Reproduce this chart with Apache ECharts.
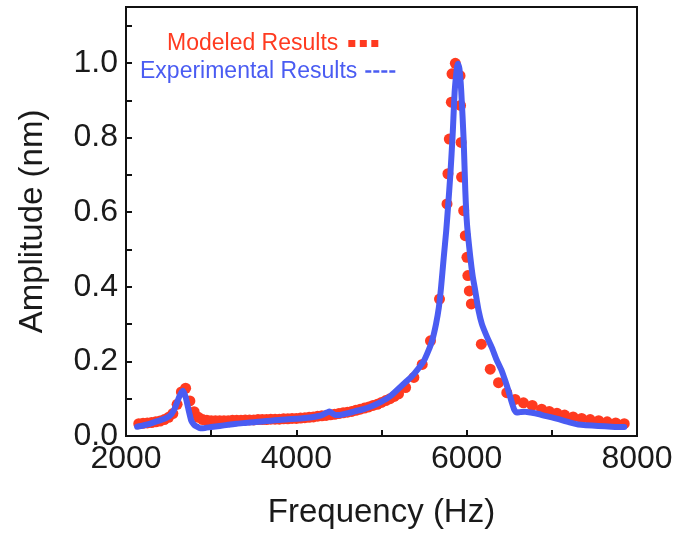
<!DOCTYPE html>
<html>
<head>
<meta charset="utf-8">
<script src="https://cdn.jsdelivr.net/npm/echarts@6/dist/echarts.min.js"></script>
<style>
html,body{margin:0;padding:0;background:#fff;}
#chart{width:678px;height:535px;}
</style>
</head>
<body>
<div id="chart"></div>
<script>
// Modeled results (red dots): frequency (Hz) and amplitude (nm)
var modeledFreq = [2150,2200,2250,2300,2350,2400,2450,2500,2550,2600,2650,2700,2750,2800,2850,2900,2950,
  3000,3050,3100,3150,3200,3250,3300,3350,3400,3450,3500,3550,3600,3650,3700,3750,3800,3850,3900,3950,
  4000,4050,4100,4150,4200,4250,4300,4350,4400,4450,4500,4550,4600,4650,4700,4750,4800,4850,4900,4950,
  5000,5050,5100,5150,5200,5283,5380,5478,5575,5681,5769,5780,5796,5820,5828,5867,
  5922,5928,5935,5940,5965,5984,6003,6014,6031,6055,6172,6277,6374,6471,6569,6667,6770,
  6880,6970,7060,7150,7250,7350,7450,7550,7650,7750,7850];
var modeledAmp = [0.033,0.034,0.035,0.036,0.038,0.040,0.044,0.050,0.060,0.085,0.118,0.128,0.094,0.065,0.050,0.044,0.042,
  0.041,0.041,0.041,0.041,0.041,0.042,0.042,0.042,0.043,0.043,0.043,0.044,0.044,0.044,0.045,0.045,0.045,0.046,0.046,0.047,
  0.047,0.048,0.049,0.050,0.051,0.053,0.054,0.055,0.057,0.058,0.060,0.062,0.064,0.066,0.069,0.072,0.075,0.078,0.082,0.085,
  0.090,0.095,0.100,0.106,0.113,0.130,0.157,0.192,0.255,0.367,0.622,0.703,0.796,0.895,0.971,0.999,
  0.966,0.886,0.787,0.694,0.604,0.537,0.479,0.430,0.389,0.354,0.246,0.179,0.143,0.116,0.098,0.089,0.082,
  0.072,0.066,0.061,0.056,0.051,0.047,0.044,0.041,0.038,0.035,0.033];

// Experimental results (blue line)
var expFreq = [2130,2200,2250,2318,2400,2450,2515,2560,2593,2630,2667,2700,2729,2768,2800,2827,2870,2903,
  3000,3100,3200,3300,3400,3500,3600,3700,3800,3900,4000,4100,4200,4300,4360,4390,4420,4460,4500,
  4600,4700,4800,4900,5000,5100,5205,5300,5361,5430,5497,5550,5594,5640,5673,5700,5731,5760,5781,
  5809,5836,5860,5887,5898,5915,5936,5965,5984,6004,6043,6070,6101,6140,6179,6240,6296,6350,6413,
  6450,6491,6530,6560,6589,6630,6686,6750,6842,6920,7000,7080,7154,7230,7310,7400,7544,7700,7817,7850];
var expAmp = [0.025,0.028,0.031,0.036,0.042,0.046,0.054,0.068,0.086,0.108,0.121,0.105,0.076,0.040,0.030,0.026,0.021,0.021,
  0.024,0.027,0.030,0.033,0.035,0.037,0.039,0.041,0.043,0.045,0.046,0.048,0.051,0.056,0.063,0.066,0.061,0.056,0.056,
  0.061,0.067,0.073,0.081,0.092,0.106,0.128,0.148,0.161,0.180,0.201,0.228,0.255,0.300,0.344,0.400,0.479,0.550,0.613,
  0.703,0.810,0.926,0.989,0.998,0.985,0.926,0.792,0.658,0.568,0.479,0.430,0.389,0.336,0.300,0.265,0.237,0.205,0.174,
  0.150,0.121,0.090,0.070,0.063,0.064,0.065,0.063,0.059,0.054,0.050,0.045,0.040,0.035,0.031,0.029,0.027,0.025,0.024,0.024];

var xLabels = ['2000','4000','6000','8000'];
var yLabels = ['0.0','0.2','0.4','0.6','0.8','1.0'];

var RED = '#ff3a20';
var BLUE = '#4a5cf2';
var FONT = 'Liberation Sans, Arial, sans-serif';

function zip(a, b) { return a.map(function (v, i) { return [v, b[i]]; }); }

var chart = echarts.init(document.getElementById('chart'), null, {renderer: 'canvas'});
chart.setOption({
  animation: false,
  backgroundColor: '#fff',
  grid: {left: 126, right: 41, top: 7, bottom: 99, show: true, borderColor: '#111', borderWidth: 2, backgroundColor: 'transparent'},
  legend: [
    {
      data: [{name: 'Modeled Results', icon: 'path://M0,0h7v7h-7z M11.5,0h7v7h-7z M23,0h7v7h-7z'}],
      left: 167, top: 32, padding: 0, align: 'right', itemWidth: 30, itemHeight: 7,
      selectedMode: false,
      textStyle: {color: RED, fontSize: 23, fontFamily: FONT, padding: [0, 5, 0, 0]}
    },
    {
      data: [{name: 'Experimental Results', icon: 'path://M0,0h6v2.5h-6z M8,0h6v2.5h-6z M16,0h6v2.5h-6z M24,0h6v2.5h-6z'}],
      left: 140, top: 60, padding: 0, align: 'right', itemWidth: 30, itemHeight: 2.5,
      selectedMode: false,
      textStyle: {color: BLUE, fontSize: 23, fontFamily: FONT, padding: [0, 3, 0, 0]}
    }
  ],
  xAxis: {
    type: 'value', min: 2000, max: 8000, interval: 1000,
    name: 'Frequency (Hz)', nameLocation: 'middle', nameGap: 60,
    nameTextStyle: {fontSize: 33, fontFamily: FONT, color: '#1a1a1a'},
    axisLine: {lineStyle: {color: '#111', width: 2}},
    axisTick: {inside: true, length: 6, lineStyle: {color: '#111', width: 2}},
    splitLine: {show: false},
    axisLabel: {
      margin: 7, fontSize: 32, fontFamily: FONT, color: '#1a1a1a',
      formatter: function (v) { var s = String(Math.round(v)); return xLabels.indexOf(s) >= 0 ? s : ''; }
    }
  },
  yAxis: {
    type: 'value', min: 0, max: 1.15, interval: 0.1,
    name: 'Amplitude (nm)', nameLocation: 'middle', nameGap: 77,
    nameTextStyle: {fontSize: 33, fontFamily: FONT, color: '#1a1a1a'},
    axisLine: {lineStyle: {color: '#111', width: 2}},
    axisTick: {inside: true, length: 6, lineStyle: {color: '#111', width: 2}},
    splitLine: {show: false},
    axisLabel: {
      margin: 8, fontSize: 32, fontFamily: FONT, color: '#1a1a1a',
      formatter: function (v) { var s = v.toFixed(1); return (yLabels.indexOf(s) >= 0 && Math.abs(v - parseFloat(s)) < 1e-6) ? s : ''; }
    }
  },
  series: [
    {
      name: 'Modeled Results', type: 'scatter', data: zip(modeledFreq, modeledAmp),
      symbol: 'circle', symbolSize: 11, itemStyle: {color: RED, opacity: 1},
      color: RED, emphasis: {disabled: true}, z: 2
    },
    {
      name: 'Experimental Results', type: 'line', data: zip(expFreq, expAmp),
      showSymbol: false, symbol: 'none', smooth: 0.2, color: BLUE,
      itemStyle: {color: BLUE},
      lineStyle: {color: BLUE, width: 6, cap: 'round', join: 'round'},
      emphasis: {disabled: true}, z: 3
    }
  ]
});
</script>
</body>
</html>
